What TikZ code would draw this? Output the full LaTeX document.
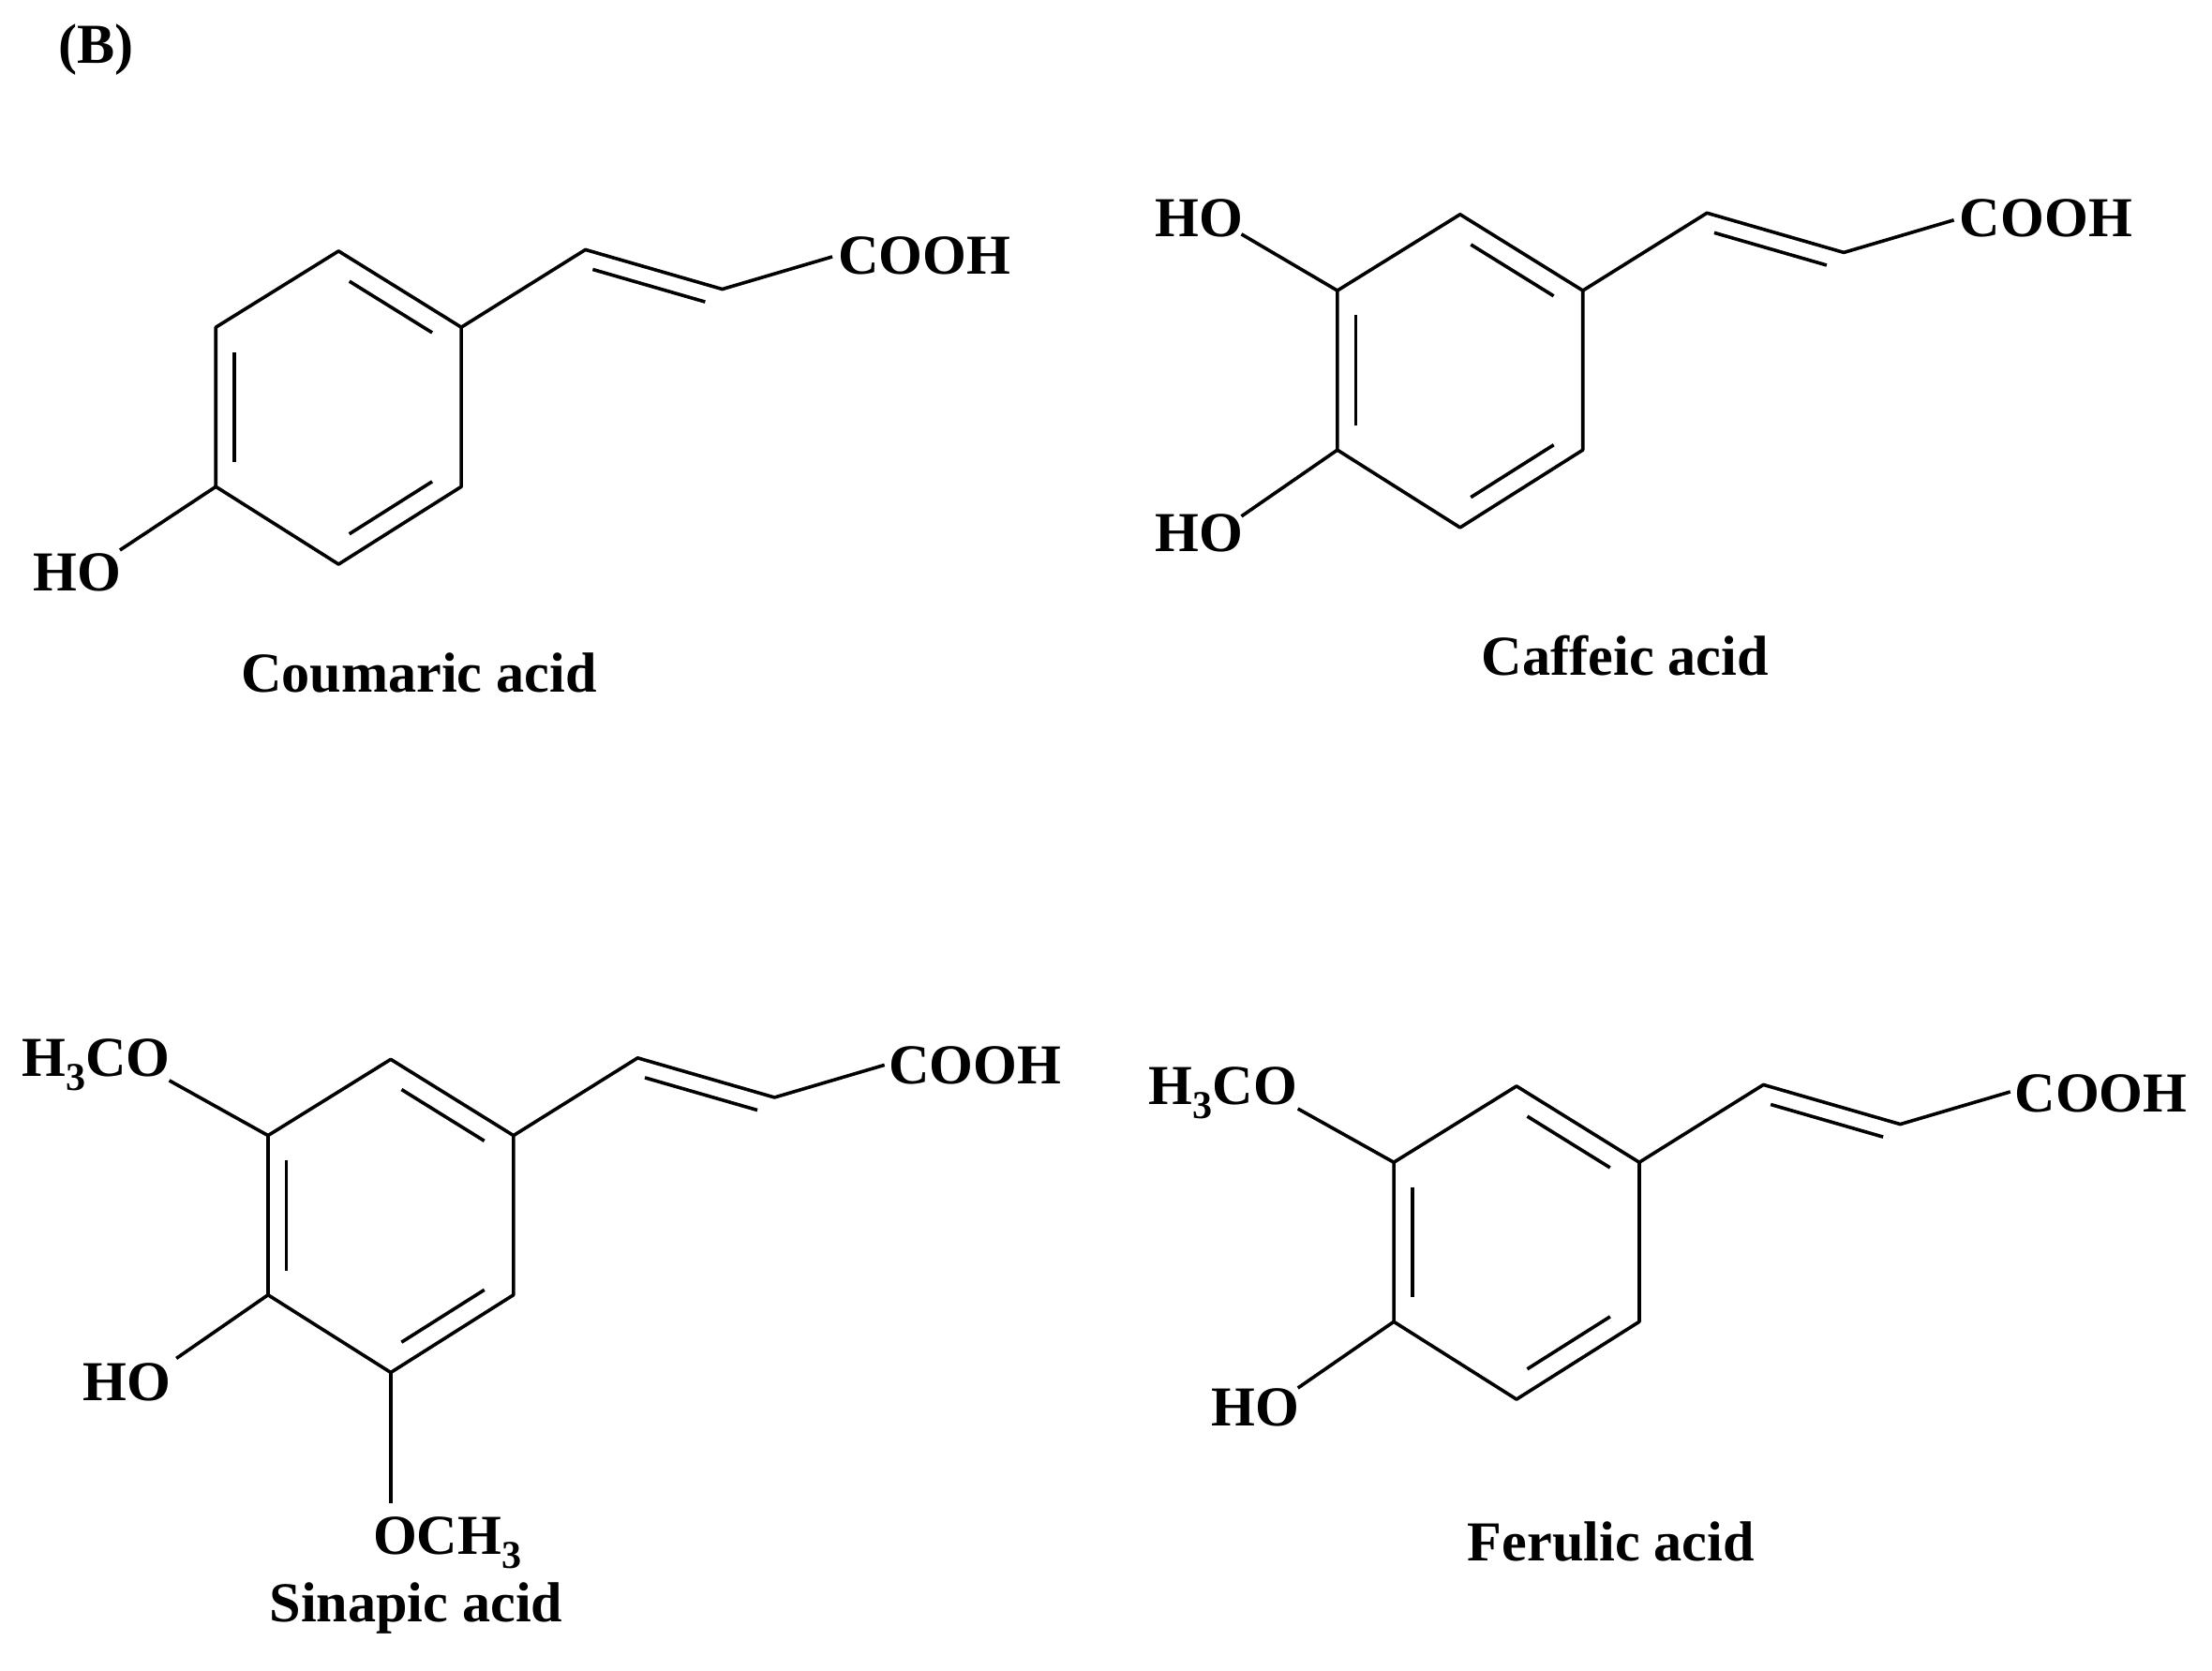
\documentclass[tikz,border=0pt]{standalone}
\usepackage{fontspec}
\setmainfont{Liberation Serif}
\usetikzlibrary{calc}
\tikzset{bond/.style={line width=2.4pt},
lbl/.style={font=\fontsize{40}{40}\selectfont\bfseries,inner sep=0pt},
inner/.style={line width=2.4pt,shorten <=9pt,shorten >=9pt}}
\newcommand{\hexring}[3]{%
 \coordinate (#1c) at (#2,#3);
 \coordinate (#1t) at ($(#1c)+(0,-111)$);
 \coordinate (#1ur) at ($(#1c)+(87,-57)$);
 \coordinate (#1lr) at ($(#1c)+(87,56)$);
 \coordinate (#1b) at ($(#1c)+(0,111)$);
 \coordinate (#1ll) at ($(#1c)+(-87,56)$);
 \coordinate (#1ul) at ($(#1c)+(-87,-57)$);
 \draw[bond,line join=round] (#1t)--(#1ur)--(#1lr)--(#1b)--(#1ll)--(#1ul)--cycle;
 \draw[inner] ($(#1c)!0.85!(#1ul)$)--($(#1c)!0.85!(#1ll)$);
 \draw[inner] ($(#1c)!0.85!(#1t)$)--($(#1c)!0.85!(#1ur)$);
 \draw[inner] ($(#1c)!0.85!(#1lr)$)--($(#1c)!0.85!(#1b)$);
 \coordinate (#1v1) at ($(#1ur)+(88,-55)$);
 \coordinate (#1v2) at ($(#1ur)+(185,-27)$);
 \coordinate (#1v3) at ($(#1ur)+(263,-50)$);
 \draw[bond,line join=round] (#1ur)--(#1v1)--(#1v2)--(#1v3);
 \draw[inner] ($(#1v1)+(-3.5,11.5)$)--($(#1v2)+(-3.5,11.5)$);
}
\begin{document}
\begin{tikzpicture}[x=1pt,y=-1pt]
\useasboundingbox (0,0) rectangle (1568,1184);
\node[lbl] (B) at (68,35) {(B)};
% Coumaric
\hexring{a}{240}{289}
\node[lbl,anchor=west] (acooh) at (594,181) {COOH};
\node[lbl] (aho) at (55,406) {HO};
\draw[bond] (all)--(85,390);
\node[lbl] (aname) at (297,477) {Coumaric acid};
% Caffeic
\hexring{b}{1035}{263}
\node[lbl,anchor=west] (bcooh) at (1389,155) {COOH};
\node[lbl] (bho1) at (850,155) {HO};
\node[lbl] (bho2) at (850,378) {HO};
\draw[bond] (bul)--(880,166);
\draw[bond] (bll)--(880,366);
\node[lbl] (bname) at (1152,465) {Caffeic acid};
% Sinapic
\hexring{c}{277}{862}
\node[lbl,anchor=west] (ccooh) at (630,755) {COOH};
\node[lbl] (cmeo) at (68,755) {H\raisebox{-0.25em}{\fontsize{28}{28}\selectfont 3}CO};
\draw[bond] (cul)--(120,766);
\node[lbl] (cho) at (90,980) {HO};
\draw[bond] (cll)--(125,963);
\draw[bond] (cb)--(277,1066);
\node[lbl] (cmeo2) at (317,1094) {OCH\raisebox{-0.25em}{\fontsize{28}{28}\selectfont 3}};
\node[lbl] (cname) at (295,1140) {Sinapic acid};
% Ferulic
\hexring{d}{1075}{881}
\node[lbl,anchor=west] (dcooh) at (1428,775) {COOH};
\node[lbl] (dmeo) at (867,775) {H\raisebox{-0.25em}{\fontsize{28}{28}\selectfont 3}CO};
\draw[bond] (dul)--(920,786);
\node[lbl] (dho) at (890,998) {HO};
\draw[bond] (dll)--(920,984);
\node[lbl] (dname) at (1142,1093) {Ferulic acid};
\end{tikzpicture}
\end{document}
